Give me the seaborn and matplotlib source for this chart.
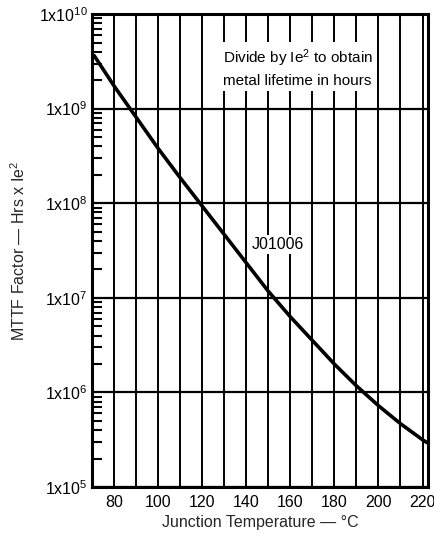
#!/usr/bin/env python3
"""MTTF factor vs junction temperature (J01006), log scale."""
import numpy as np
import pandas as pd
import matplotlib as mpl
import matplotlib.pyplot as plt
import seaborn as sns

# values
temp_c = [71, 80, 90, 100, 110, 120, 130, 140, 150, 160, 170, 180, 190, 200, 210, 220, 222]
log_mttf = [9.56, 9.24, 8.91, 8.58, 8.27, 7.97, 7.67, 7.37, 7.07, 6.80, 6.55, 6.30, 6.07,
            5.86, 5.67, 5.50, 5.47]
x_ticks = [80, 100, 120, 140, 160, 180, 200, 220]
x_grid = list(range(80, 221, 10))
y_decades = [5, 6, 7, 8, 9, 10]

FONT = ["Liberation Sans Narrow", "Liberation Sans", "DejaVu Sans"]

sns.set_theme(style="white")
mpl.rcParams.update({
    "font.family": FONT,
    "mathtext.fontset": "custom",
    "mathtext.rm": "Liberation Sans",
    "mathtext.default": "regular",
    "axes.edgecolor": "black",
    "axes.linewidth": 2.2,
    "text.color": "black",
    "xtick.color": "black",
    "ytick.color": "black",
})

df = pd.DataFrame({"temp": temp_c, "mttf": [10 ** v for v in log_mttf]})

fig = plt.figure(figsize=(4.35, 5.4), dpi=100)
ax = fig.add_axes([0.2115, 0.098, 0.7725, 0.876])

for x in x_grid:
    ax.axvline(x, color="black", lw=1.4, zorder=1)
for d in y_decades:
    ax.axhline(10.0 ** d, color="black", lw=1.6, zorder=1)

sns.lineplot(data=df, x="temp", y="mttf", ax=ax, color="black", lw=2.6, zorder=3)

ax.set_yscale("log")
ax.set_xlim(70, 222.5)
ax.set_ylim(1e5, 1e10)

ax.set_xticks(x_ticks)
ax.set_xticklabels([str(t) for t in x_ticks], fontsize=11.5)
ax.set_yticks([10.0 ** d for d in y_decades])
ax.set_yticklabels([f"1x10$^{{{d}}}$" for d in y_decades], fontsize=11.5)
ax.yaxis.set_minor_locator(mpl.ticker.LogLocator(base=10, subs=np.arange(2, 10)))
ax.yaxis.set_minor_formatter(mpl.ticker.NullFormatter())
ax.tick_params(axis="x", length=0, pad=6)
ax.tick_params(axis="y", which="major", length=0, pad=3)
ax.tick_params(axis="y", which="minor", direction="in", length=7, width=1.5, left=True)

ax.set_xlabel("Junction Temperature — °C", fontsize=11.5, labelpad=3)
ax.set_ylabel("MTTF Factor — Hrs x Ie$^2$", fontsize=11.5, labelpad=8)

ax.text(0.39, 0.886, "Divide by Ie$^2$ to obtain\nmetal lifetime in hours",
        transform=ax.transAxes, ha="left", va="center", fontsize=11, linespacing=1.45,
        bbox=dict(facecolor="white", edgecolor="none", pad=2), zorder=4)
ax.text(0.476, 0.512, "J01006", transform=ax.transAxes, ha="left", va="center",
        fontsize=11.5, bbox=dict(facecolor="white", edgecolor="none", pad=1.5), zorder=4)

for s in ax.spines.values():
    s.set_visible(True)
    s.set_zorder(5)

fig.savefig("out.png", dpi=100, facecolor="white")
